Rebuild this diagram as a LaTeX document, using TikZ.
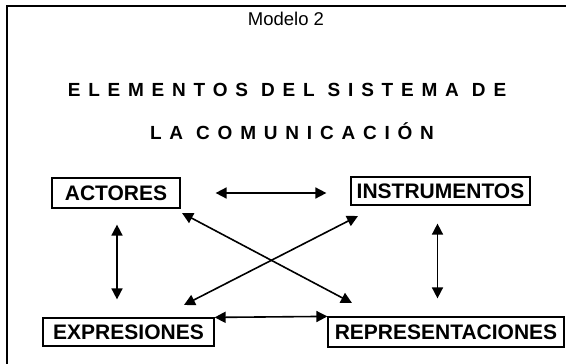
\documentclass[tikz,border=0pt]{standalone}
\usepackage{fontspec}
\setmainfont{Liberation Sans}
\newfontfamily\spacedfont[LetterSpace=41]{Liberation Sans}
\usetikzlibrary{arrows.meta,calc}
\begin{document}
\begin{tikzpicture}[x=1pt,y=-1pt,
  box/.style={draw,line width=1.2pt,inner sep=0pt,
    font=\fontsize{21}{21}\selectfont\bfseries,text height=15pt,text depth=0pt},
  arr/.style={line width=1.6pt,{Triangle[length=11pt,width=11pt]}-{Triangle[length=11pt,width=11pt]}},
  titlefont/.style={font=\spacedfont\bfseries\fontsize{19}{19}\selectfont}]
\useasboundingbox (0,0) rectangle (566,364);
\fill[white] (0,0) rectangle (566,364);
\draw[line width=1.6pt] (7,380) -- (7,6) -- (580,6);

\node (mod) at (286,19) {\fontsize{18.5}{18.5}\selectfont Modelo 2};
\node[titlefont] (t1) at (287,90) {ELEMENTOS DEL SISTEMA DE};
\node[titlefont] (t2) at (292,131) {LA COMUNICACIÓN};

\node[box,minimum width=128pt,minimum height=30pt] (act) at (116,193) {ACTORES};
\node[box,minimum width=179pt,minimum height=28pt] (ins) at (440.5,191) {INSTRUMENTOS};
\node[box,minimum width=171pt,minimum height=28pt] (exp) at (128.5,332) {EXPRESIONES};
\node[box,minimum width=236pt,minimum height=30pt] (rep) at (446,332) {REPRESENTACIONES};

\coordinate (c1) at (182,213);
\coordinate (c2) at (352,303);
\coordinate (c3) at (184,305);
\coordinate (c4) at (358,216);

\draw[arr,shorten <=35pt,shorten >=24pt] (act.east) -- (act.east -| ins.west);
\draw[arr] (exp.north east) -- (rep.north west);
\draw[arr,shorten <=16pt,shorten >=18pt] ([xshift=1pt]act.south) -- ([xshift=1pt]act.south |- exp.north);
\draw[arr,shorten <=18pt,shorten >=18pt] ([xshift=-3pt]ins.south) -- ([xshift=-3pt]ins.south |- rep.north);
\draw[arr] (c1) -- (c2);
\draw[arr] (c3) -- (c4);
\end{tikzpicture}
\end{document}
